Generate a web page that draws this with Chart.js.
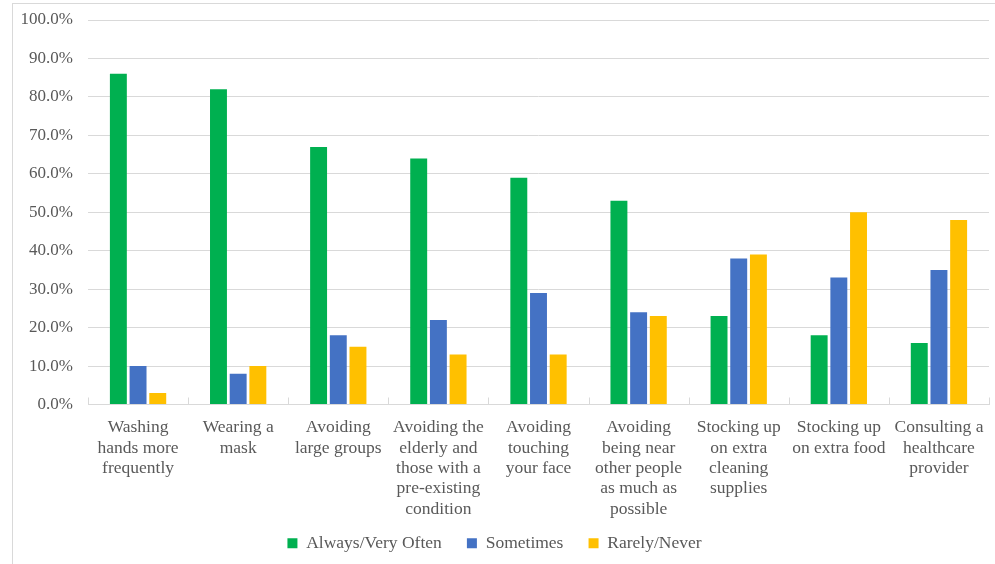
<!DOCTYPE html>
<html>
<head>
<meta charset="utf-8">
<script src="https://cdn.jsdelivr.net/npm/chart.js@4"></script>
<style>
  body { margin: 0; background: #fff; }
  #frame { position: absolute; left: 12px; top: 3px; width: 990px; height: 600px;
           border-left: 1px solid #d9d9d9; border-top: 1px solid #d9d9d9; }
  #wrap { position: absolute; left: 0; top: 0; width: 995px; height: 564px; }
</style>
</head>
<body>
<div id="frame"></div>
<div id="wrap"><canvas id="myChart" width="995" height="564"></canvas></div>
<script>
const categories = [
    ['Washing', 'hands more', 'frequently'],
    ['Wearing a', 'mask'],
    ['Avoiding', 'large groups'],
    ['Avoiding the', 'elderly and', 'those with a', 'pre-existing', 'condition'],
    ['Avoiding', 'touching', 'your face'],
    ['Avoiding', 'being near', 'other people', 'as much as', 'possible'],
    ['Stocking up', 'on extra', 'cleaning', 'supplies'],
    ['Stocking up', 'on extra food'],
    ['Consulting a', 'healthcare', 'provider']
];
const always = [86, 82, 67, 64, 59, 53, 23, 18, 16];
const sometimes = [10, 8, 18, 22, 29, 24, 38, 33, 35];
const rarely = [3, 10, 15, 13, 13, 23, 39, 50, 48];
const yTicks = [0, 10, 20, 30, 40, 50, 60, 70, 80, 90, 100];

const serif = '"Liberation Serif", "Times New Roman", serif';

// small upward tick marks at category boundaries, like the original
const innerTicks = {
    id: 'innerTicks',
    afterDatasetsDraw(chart) {
        const x = chart.scales.x, ctx = chart.ctx;
        const y0 = chart.chartArea.bottom;
        const step = (x.right - x.left) / categories.length;
        ctx.save();
        ctx.strokeStyle = '#d9d9d9';
        ctx.lineWidth = 1;
        for (let i = 0; i <= categories.length; i++) {
            const px = Math.round(x.left + i * step) + 0.5;
            ctx.beginPath();
            ctx.moveTo(px, y0);
            ctx.lineTo(px, y0 - 7);
            ctx.stroke();
        }
        ctx.restore();
    }
};

const data = {
    labels: categories,
    datasets: [{
        label: 'Always/Very Often',
        data: always,
        backgroundColor: '#00B050'
    }, {
        label: 'Sometimes',
        data: sometimes,
        backgroundColor: '#4472C4'
    }, {
        label: 'Rarely/Never',
        data: rarely,
        backgroundColor: '#FFC000'
    }]
};

const config = {
    type: 'bar',
    data: data,
    plugins: [innerTicks],
    options: {
        responsive: false,
        animation: false,
        datasets: {
            bar: {
                categoryPercentage: 0.59,
                barPercentage: 0.86
            }
        },
        layout: {
            padding: { top: 20, right: 6, left: 0, bottom: 2 }
        },
        scales: {
            x: {
                grid: { display: false },
                border: { display: true, color: '#d9d9d9' },
                ticks: {
                    color: '#595959',
                    font: { family: serif, size: 17.5, lineHeight: 1.165 },
                    maxRotation: 0,
                    autoSkip: false,
                    padding: 5
                },
                afterFit(scale) { scale.height = 118; }
            },
            y: {
                min: 0,
                max: 100,
                afterBuildTicks(scale) {
                    scale.ticks = yTicks.map(v => ({ value: v }));
                },
                grid: { color: '#d9d9d9', drawTicks: false },
                border: { display: false },
                ticks: {
                    color: '#595959',
                    font: { family: serif, size: 17 },
                    padding: 15,
                    callback: v => v.toFixed(1) + '%'
                },
                afterFit(scale) {
                    scale.width = 88;
                    scale.paddingTop = 0;
                    scale.paddingBottom = 0;
                }
            }
        },
        plugins: {
            legend: {
                display: true,
                position: 'bottom',
                labels: {
                    color: '#595959',
                    font: { family: serif, size: 17.5 },
                    boxWidth: 10,
                    boxHeight: 10,
                    padding: 12,
                    generateLabels(chart) {
                        const items = Chart.defaults.plugins.legend.labels.generateLabels(chart);
                        // wider gaps between items than the vertical padding allows
                        items.forEach((it, i) => {
                            if (i < items.length - 1) it.text += '   ';
                        });
                        return items;
                    }
                }
            },
            tooltip: { enabled: false },
            title: { display: false }
        }
    }
};

const myChart = new Chart(
    document.getElementById('myChart'),
    config
);
</script>
</body>
</html>
